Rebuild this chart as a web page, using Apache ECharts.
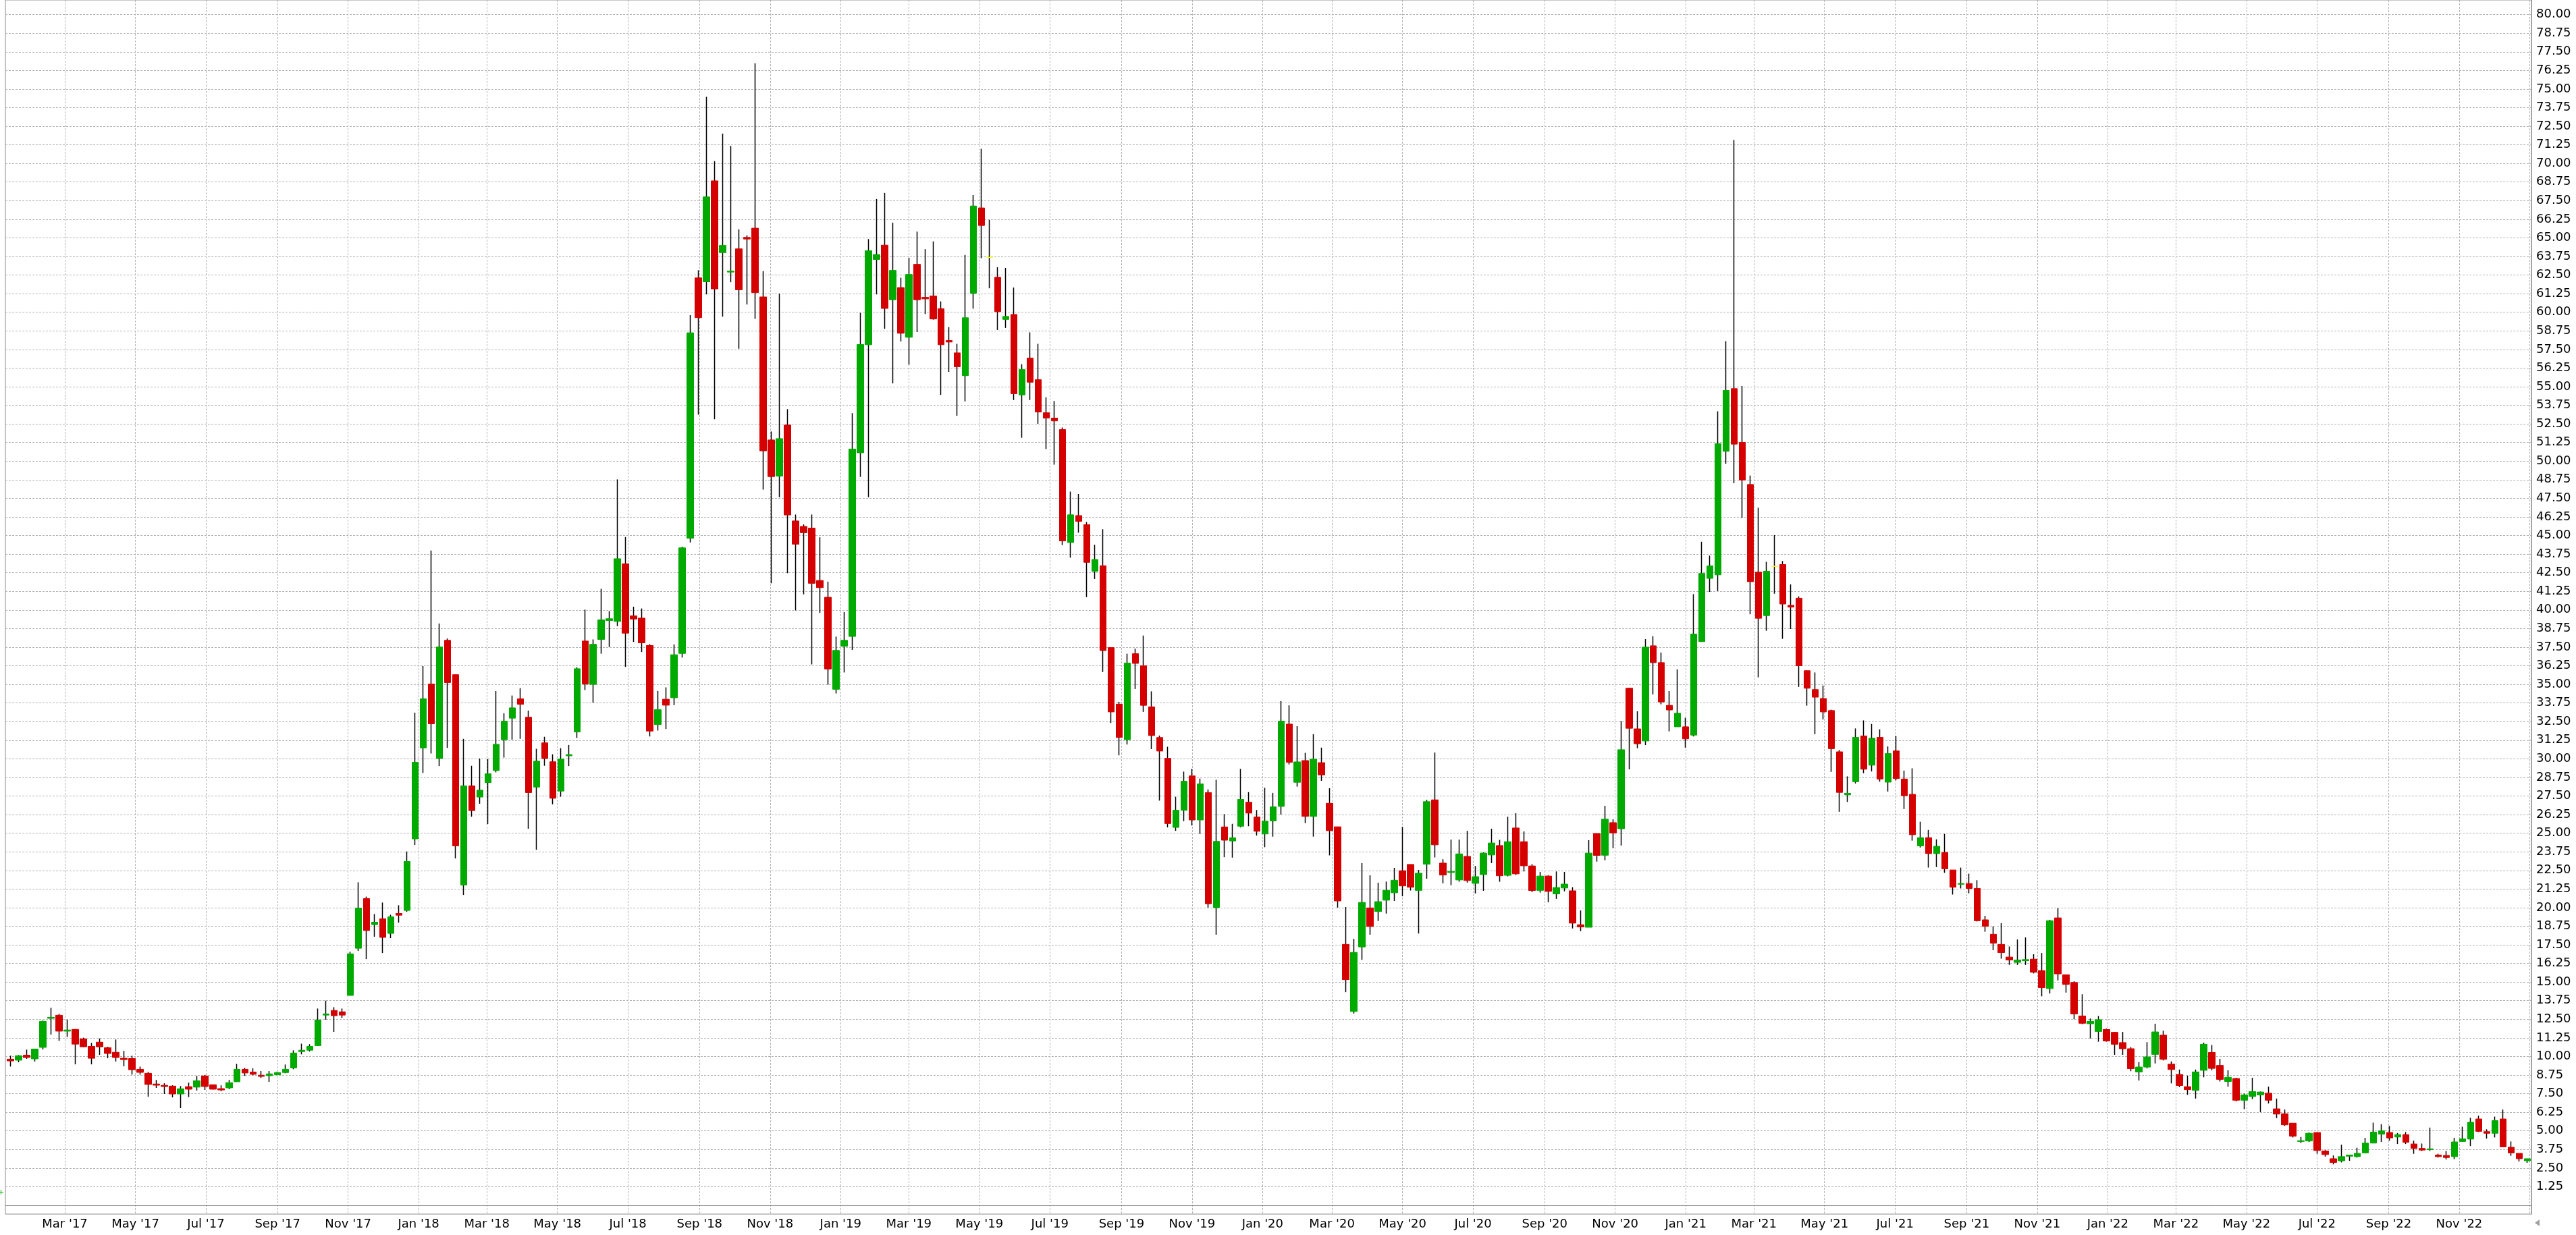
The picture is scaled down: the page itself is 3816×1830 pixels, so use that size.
<!DOCTYPE html>
<html><head><meta charset="utf-8">
<script src="https://cdn.jsdelivr.net/npm/echarts@6/dist/echarts.min.js"></script>
<style>html,body{margin:0;padding:0;background:#fff}#c{width:3816px;height:1830px}</style>
</head><body><div id="c"></div>
<script>
// weekly candles, first week ending Friday 2017-01-13
const firstWeekUTC = Date.UTC(2017, 0, 13);
const open = [
9.82,9.75,10.09,9.84,10.61,12.56,12.77,11.70,11.82,11.18,
10.68,10.96,10.59,10.28,9.88,9.86,9.14,8.87,8.15,8.06,
8.01,7.48,7.97,7.94,8.69,8.10,7.84,7.89,8.30,9.14,
8.95,8.74,8.71,8.77,8.92,9.23,10.33,10.42,10.73,12.78,
13.09,13.00,14.10,17.27,20.61,18.86,19.25,18.27,19.61,19.81,
24.62,30.73,35.02,30.02,37.96,35.65,21.52,28.18,27.43,28.40,
29.21,31.28,32.73,34.03,32.79,28.10,31.07,29.80,27.83,30.20,
31.80,37.91,35.00,38.02,39.29,39.23,43.10,39.60,39.45,37.61,
32.30,34.00,34.10,37.08,44.82,62.31,62.05,68.83,64.01,62.70,
64.26,65.03,65.65,61.03,51.42,48.99,52.42,45.98,45.61,45.50,
41.98,40.85,34.67,37.56,38.22,50.56,57.82,63.55,64.51,60.84,
61.66,58.32,63.22,61.00,61.09,60.24,58.10,57.27,55.74,61.28,
67.01,63.69,62.35,59.52,59.85,54.45,56.92,55.47,53.25,52.89,
52.12,44.53,46.34,45.73,42.60,42.97,37.47,33.67,31.28,37.06,
36.25,33.49,31.43,30.03,25.39,26.54,28.85,25.89,27.73,20.00,
25.42,24.48,25.47,27.08,26.09,24.95,25.83,26.80,32.33,28.42,
29.88,26.13,29.74,27.01,25.43,17.53,13.02,17.36,19.98,19.74,
20.50,21.00,22.48,22.90,21.16,22.92,27.24,22.99,22.36,21.86,
23.44,21.63,22.22,23.54,24.17,22.17,25.35,24.43,22.80,21.16,
22.12,20.92,21.32,21.13,18.85,18.68,24.98,23.52,25.71,25.30,
34.74,32.01,31.20,37.59,36.46,33.59,32.15,32.15,31.59,37.87,
42.12,42.36,50.66,54.87,51.26,48.43,42.54,39.62,42.93,43.05,
40.31,40.79,35.92,34.65,34.05,33.24,30.47,27.58,28.46,31.53,
29.57,31.44,28.43,30.53,28.64,27.61,24.15,24.70,23.63,23.71,
22.53,21.57,21.62,21.29,19.18,18.21,17.53,16.68,16.32,16.43,
16.54,15.77,14.56,19.31,15.49,14.97,12.72,12.20,11.68,11.81,
11.62,10.93,10.52,8.96,9.29,10.14,11.43,9.48,8.79,7.97,
7.72,9.07,10.27,9.40,8.32,8.52,7.06,7.31,7.42,7.53,
6.48,6.15,5.52,4.29,4.32,4.89,3.65,3.13,2.99,3.30,
3.27,3.52,4.18,4.78,4.89,4.59,4.75,4.12,3.82,3.74,
3.38,3.35,3.27,4.29,4.45,5.80,4.95,4.84,5.80,3.90,
3.49,2.99
];
const close = [
9.70,10.05,9.93,10.50,12.36,12.63,11.70,11.78,10.83,10.65,
9.88,10.65,10.20,9.93,9.79,9.11,8.93,8.12,8.07,7.98,
7.48,7.83,7.80,8.37,7.98,7.80,7.75,8.24,9.14,8.89,
8.80,8.66,8.83,8.92,9.14,10.23,10.42,10.68,12.45,12.86,
12.74,12.78,16.89,19.97,18.46,19.02,18.00,19.38,19.49,23.10,
29.76,34.03,32.35,37.51,35.12,24.15,28.18,26.52,27.89,28.99,
30.97,32.53,33.42,33.66,27.73,29.84,30.02,27.35,29.98,30.28,
36.05,35.02,37.69,39.33,39.41,43.44,38.44,39.39,37.79,31.86,
33.30,33.60,36.99,44.17,58.62,59.64,67.75,61.57,64.49,62.76,
61.51,64.92,61.32,50.69,48.96,51.51,46.38,44.42,45.19,41.79,
41.50,36.03,37.28,37.96,50.81,57.83,64.13,63.88,60.26,62.81,
58.59,62.54,60.84,60.90,59.55,57.82,58.00,56.34,59.63,67.14,
65.83,63.69,60.04,59.72,54.53,56.15,55.30,53.30,52.89,52.70,
44.64,46.39,45.95,43.20,43.39,37.27,33.15,31.43,36.43,36.41,
33.59,31.56,30.52,25.65,26.54,28.49,25.89,28.31,20.26,24.45,
24.53,24.69,27.27,26.35,25.13,25.81,26.77,32.53,29.76,29.79,
26.13,29.97,28.92,25.17,20.45,15.16,16.99,20.35,18.73,20.40,
21.16,21.84,21.46,21.37,22.31,27.12,24.22,22.19,22.43,23.61,
21.82,22.08,23.66,24.34,22.14,24.43,22.27,22.81,21.15,22.12,
21.09,21.35,21.58,18.96,18.70,23.66,23.51,25.94,25.02,30.61,
32.05,31.01,37.50,36.46,33.82,33.28,33.06,31.34,38.38,42.45,
42.96,51.17,54.75,51.14,48.73,41.90,39.44,42.60,42.93,40.40,
40.19,36.25,34.74,34.14,33.15,30.68,27.74,27.68,31.44,29.30,
31.38,28.64,30.35,28.67,27.52,24.90,24.70,23.63,24.12,22.61,
21.37,21.62,21.29,19.12,18.74,17.61,16.98,16.48,16.48,16.51,
15.66,14.62,19.12,15.55,14.84,12.86,12.23,12.36,12.47,11.04,
10.82,10.52,9.18,9.29,9.97,11.65,9.81,9.12,8.05,7.77,
8.96,10.82,9.20,8.46,8.60,7.06,7.42,7.64,7.61,7.06,
6.13,5.41,4.64,4.34,4.84,3.68,3.41,2.88,3.27,3.38,
3.49,4.18,4.92,5.00,4.53,4.75,4.23,3.82,3.71,3.79,
3.27,3.21,4.26,4.46,5.58,4.97,4.84,5.69,3.93,3.52,
3.13,3.13
];
const low = [
9.32,9.61,9.84,9.66,10.47,11.47,11.05,11.32,9.47,10.63,
9.47,10.11,9.88,9.66,9.34,8.78,8.78,7.30,7.89,7.48,
7.25,6.53,7.27,7.71,7.75,7.78,7.66,7.80,8.30,8.69,
8.74,8.56,8.29,8.74,8.87,9.14,10.14,10.33,10.70,12.47,
11.65,12.59,14.10,17.09,16.54,18.04,16.95,17.95,18.99,19.72,
24.21,29.05,30.36,29.51,30.73,23.30,20.85,26.11,26.98,25.61,
29.09,30.08,31.28,31.34,25.30,23.89,29.53,26.94,27.45,29.51,
31.40,34.62,33.77,37.06,37.51,38.91,36.17,37.85,37.17,31.50,
31.90,32.00,33.60,36.80,44.54,53.12,61.20,52.81,59.70,62.02,
57.55,60.52,59.56,48.08,41.79,47.57,42.47,39.97,41.05,36.34,
39.80,34.98,34.39,35.80,37.32,48.94,47.57,61.20,58.89,55.22,
58.04,56.48,58.67,59.88,59.50,54.45,55.99,53.05,54.01,60.24,
63.63,61.61,58.81,58.95,54.10,51.57,54.10,52.51,50.81,49.76,
44.36,43.51,45.19,40.86,42.08,35.83,32.40,30.23,30.96,34.69,
33.15,30.65,27.19,25.39,25.16,25.81,25.52,24.95,20.00,18.18,
23.39,23.36,25.39,25.47,24.84,24.06,24.77,26.25,29.62,28.13,
25.68,24.77,28.52,23.51,20.00,14.32,12.88,16.49,18.18,19.10,
19.60,20.45,20.76,21.15,18.26,21.94,23.37,21.63,21.51,21.74,
21.68,20.95,21.13,22.99,21.74,22.10,22.19,22.43,21.04,21.01,
20.36,20.59,21.09,18.60,18.42,18.68,23.09,23.18,23.99,24.17,
29.29,30.71,30.92,34.32,33.66,31.84,32.15,30.75,31.50,37.87,
41.21,41.27,49.82,48.52,46.18,39.71,35.47,38.60,41.09,38.06,
38.72,34.83,33.57,31.65,32.64,29.12,26.44,27.10,28.34,29.03,
29.15,28.46,27.80,28.55,26.62,24.50,24.04,22.69,22.72,22.34,
20.88,21.29,20.96,19.07,18.38,17.14,16.57,16.15,16.15,16.15,
15.58,14.04,14.23,15.11,14.29,12.50,12.17,11.21,10.99,10.99,
10.11,10.11,9.01,8.38,9.20,9.53,9.73,8.19,7.94,7.42,
7.17,8.60,9.07,8.32,7.97,6.98,6.46,7.14,6.26,6.84,
5.85,5.33,4.56,4.18,4.26,3.46,3.27,2.75,2.88,2.99,
3.21,3.52,4.18,4.26,4.34,4.12,4.12,3.46,3.65,3.65,
3.21,3.08,3.10,4.26,3.98,4.92,4.48,4.56,3.93,3.32,
2.94,2.85
];
const high = [
10.05,10.09,10.46,10.52,12.41,13.27,12.86,12.47,11.84,11.26,
10.91,11.21,10.65,11.14,10.37,10.05,9.32,8.96,8.42,8.20,
8.06,8.01,8.24,8.69,8.76,8.12,8.06,8.42,9.50,9.23,
9.20,9.02,9.02,8.96,9.46,10.41,10.86,10.82,13.22,13.75,
13.31,13.22,17.03,21.70,20.74,19.57,20.34,19.52,20.16,23.77,
33.10,36.23,43.99,39.09,38.08,35.65,31.34,29.53,30.02,29.98,
34.55,33.06,34.25,34.74,33.24,30.67,31.48,30.30,30.71,30.93,
36.15,40.02,38.02,41.42,39.92,48.77,44.90,40.22,40.10,37.70,
34.56,34.80,37.68,44.25,59.81,62.82,74.47,70.16,72.00,71.18,
65.57,65.17,76.73,62.76,51.99,61.26,53.49,46.41,45.75,46.41,
44.88,41.90,38.21,39.86,53.22,59.96,64.92,67.61,68.02,66.02,
62.32,63.66,65.42,64.24,64.76,60.73,59.00,57.88,63.85,67.88,
70.98,66.21,63.03,62.98,61.66,56.51,58.65,57.88,54.29,54.04,
52.26,47.95,47.79,45.91,44.38,45.42,37.47,33.83,37.06,37.40,
38.28,34.53,31.56,30.81,27.45,29.14,29.32,28.67,27.94,28.59,
26.28,25.63,29.32,27.76,26.56,28.05,27.71,33.88,33.59,32.19,
30.40,31.65,30.75,28.02,25.43,20.04,17.90,22.99,22.17,21.67,
21.75,22.67,25.43,22.90,22.53,27.24,30.42,23.25,24.57,24.57,
25.16,22.80,23.72,25.30,24.55,26.11,26.34,25.12,22.92,22.40,
22.17,22.43,22.40,21.37,19.81,24.53,24.98,26.84,25.94,32.53,
34.76,33.19,38.04,38.23,37.14,34.55,36.01,32.76,41.06,44.58,
43.65,53.34,58.06,71.57,55.05,49.03,46.87,43.23,45.03,43.29,
41.72,40.91,35.92,35.80,34.92,33.30,30.59,28.82,32.04,32.58,
32.34,31.98,30.83,31.53,29.21,29.36,25.77,25.22,24.59,24.95,
22.53,22.69,22.28,21.84,19.45,18.74,18.96,17.39,17.86,18.00,
16.87,16.95,19.18,19.97,15.49,15.05,14.18,12.55,12.72,11.87,
11.65,11.65,10.63,9.62,10.96,12.20,11.73,9.67,9.12,8.71,
9.12,10.93,10.77,9.84,9.07,8.57,7.50,8.57,7.64,7.97,
7.17,6.43,5.52,4.59,4.89,4.89,3.71,3.35,4.07,3.38,
3.87,4.53,5.55,5.44,5.33,4.86,4.92,4.34,4.15,5.22,
3.46,3.65,4.53,5.28,5.88,6.02,5.11,5.96,6.43,4.29,
3.49,3.13
];
// axis ticks
const monthTickDates = [
[2017,2],[2017,4],[2017,6],[2017,8],[2017,10],[2018,0],[2018,2],[2018,4],[2018,6],[2018,8],[2018,10],
[2019,0],[2019,2],[2019,4],[2019,6],[2019,8],[2019,10],[2020,0],[2020,2],[2020,4],[2020,6],[2020,8],[2020,10],
[2021,0],[2021,2],[2021,4],[2021,6],[2021,8],[2021,10],[2022,0],[2022,2],[2022,4],[2022,6],[2022,8],[2022,10],[2023,0]
];
const monthNames = ['Jan','Feb','Mar','Apr','May','Jun','Jul','Aug','Sep','Oct','Nov','Dec'];
const yGridValues = [];
for (let k = 0; k <= 64; k++) yGridValues.push(k * 1.25);
const yLabelValues = yGridValues.filter(v => v > 0);

const DAY = 86400000;
const weekTimes = open.map((_, i) => firstWeekUTC + i * 7 * DAY);
const monthTicks = monthTickDates.map(d => Date.UTC(d[0], d[1], 1));
const monthLabelTicks = monthTicks.filter(t => t < Date.UTC(2023, 0, 1));

const wickData = weekTimes.map((t, i) => [t, open[i], close[i], low[i], high[i]]);
const bodyData = weekTimes.map((t, i) => [t, open[i], close[i], Math.min(open[i], close[i]), Math.max(open[i], close[i])]);

const GREEN = '#00aa00', RED = '#d50000';
const FONT = 'DejaVu Sans';

const chart = echarts.init(document.getElementById('c'), null, {renderer: 'canvas'});
chart.setOption({
  animation: false,
  backgroundColor: '#ffffff',
  grid: {left: 8, right: 66, top: 0, bottom: 31, show: true, borderColor: '#8c8c8c', borderWidth: 1, containLabel: false},
  xAxis: {
    type: 'value',
    min: Date.UTC(2017, 0, 8, 14),
    max: Date.UTC(2023, 0, 2, 12),
    axisLine: {show: true, lineStyle: {color: '#8c8c8c', width: 1}},
    axisTick: {show: false, customValues: monthTicks},
    axisLabel: {
      customValues: monthLabelTicks,
      margin: 6,
      color: '#000',
      fontFamily: FONT,
      fontSize: 18,
      formatter: function (v) {
        const d = new Date(v);
        return monthNames[d.getUTCMonth()] + " '" + String(d.getUTCFullYear()).slice(2);
      }
    },
    splitLine: {show: true, lineStyle: {color: '#b4b4b4', width: 1, type: [3, 2]}}
  },
  yAxis: {
    type: 'value',
    position: 'right',
    min: -0.59,
    max: 80.98,
    axisLine: {show: true, lineStyle: {color: '#8c8c8c', width: 1}},
    axisTick: {show: false, customValues: yGridValues},
    axisLabel: {
      customValues: yLabelValues,
      margin: 7,
      color: '#000',
      fontFamily: FONT,
      fontSize: 18,
      formatter: v => v.toFixed(2)
    },
    splitLine: {show: true, lineStyle: {color: '#b4b4b4', width: 1, type: [3, 2]}}
  },
  graphic: [
    {type: 'polygon', silent: true, shape: {points: [[3755, 1812], [3762, 1807], [3762, 1817]]}, style: {fill: '#a0a0a0'}},
    {type: 'line', silent: true, shape: {x1: 0, y1: 1766.5, x2: 5, y2: 1766.5}, style: {stroke: '#00aa00', lineWidth: 1}},
    {type: 'line', silent: true, shape: {x1: 1.5, y1: 1763, x2: 1.5, y2: 1770}, style: {stroke: '#00aa00', lineWidth: 1}}
  ],
  series: [
    {
      name: 'wick',
      type: 'candlestick',
      data: wickData,
      barWidth: 0,
      silent: true,
      itemStyle: {color: '#000', color0: '#000', borderColor: '#000', borderColor0: '#000', borderColorDoji: '#000', borderWidth: 1.5}
    },
    {
      name: 'body',
      type: 'candlestick',
      data: bodyData,
      barWidth: 10,
      silent: true,
      itemStyle: {color: GREEN, color0: RED, borderColor: GREEN, borderColor0: RED, borderColorDoji: '#ffff00', borderWidth: 1}
    }
  ]
});
</script>
</body></html>
